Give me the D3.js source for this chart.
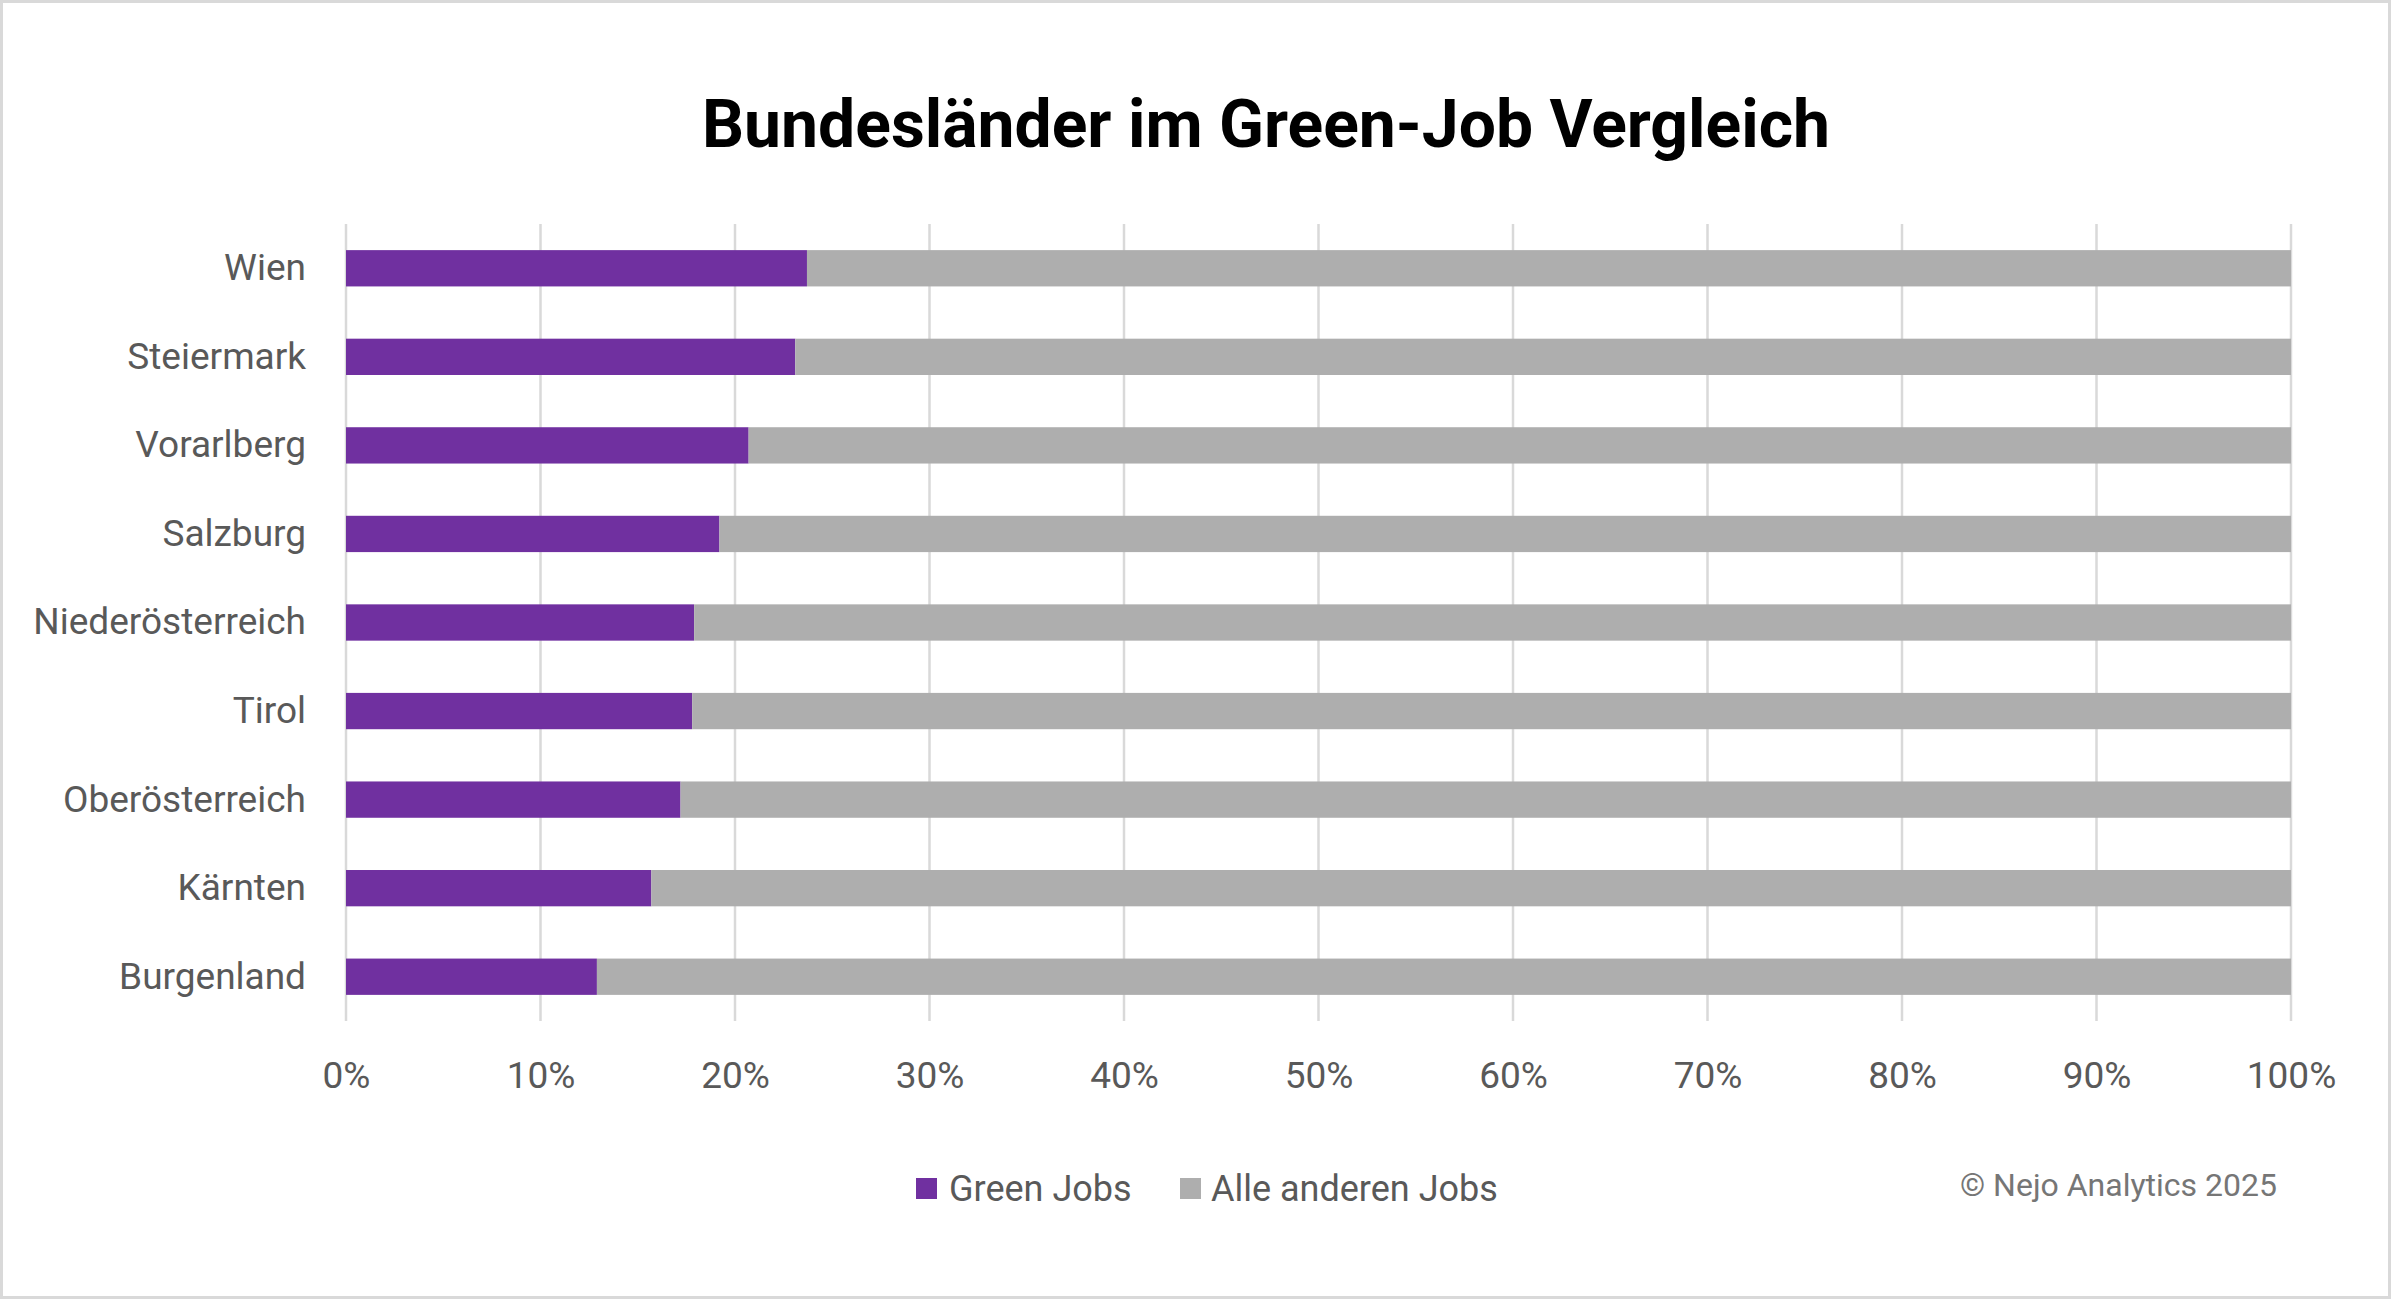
<!DOCTYPE html>
<html>
<head>
<meta charset="utf-8">
<script src="https://cdn.jsdelivr.net/npm/d3@7"></script>
<style>
  html, body { margin: 0; padding: 0; background: #fff; }
  svg { display: block; }
  text { font-family: Roboto, "Noto Sans", sans-serif; }
</style>
</head>
<body>
<svg id="chart" width="2391" height="1299"></svg>
<script>
const categories = ["Wien", "Steiermark", "Vorarlberg", "Salzburg", "Niederösterreich", "Tirol", "Oberösterreich", "Kärnten", "Burgenland"];
const greenJobs = [23.7, 23.1, 20.7, 19.2, 17.9, 17.8, 17.2, 15.7, 12.9];
const otherJobs = greenJobs.map(v => 100 - v);
const seriesNames = ["Green Jobs", "Alle anderen Jobs"];
const seriesColors = ["#7030a0", "#aeaeae"];
const xTicks = [0, 10, 20, 30, 40, 50, 60, 70, 80, 90, 100];
const titleText = "Bundesländer im Green-Job Vergleich";
const creditText = "© Nejo Analytics 2025";

const W = 2391, H = 1299;
const plot = { left: 346, right: 2291, top: 224, bottom: 1021 };

const svg = d3.select("#chart");

// outer frame
svg.append("rect")
  .attr("x", 1.5).attr("y", 1.5)
  .attr("width", W - 3).attr("height", H - 3)
  .attr("fill", "#fff").attr("stroke", "#d9d9d9").attr("stroke-width", 3);

const x = d3.scaleLinear().domain([0, 100]).range([plot.left, plot.right]);
const y = d3.scaleBand().domain(categories).range([plot.top, plot.bottom])
  .paddingInner(0.59).paddingOuter(0.295);

// title
svg.append("text")
  .attr("x", 1266).attr("y", 147)
  .attr("text-anchor", "middle")
  .attr("font-size", 66).attr("font-weight", 700)
  .attr("fill", "#000")
  .text(titleText);

// gridlines
svg.append("g").selectAll("line").data(xTicks).join("line")
  .attr("x1", d => x(d)).attr("x2", d => x(d))
  .attr("y1", plot.top).attr("y2", plot.bottom)
  .attr("stroke", "#d9d9d9").attr("stroke-width", 2.5);

// x axis labels
const xAxis = d3.axisBottom(x).tickValues(xTicks).tickFormat(d => d + "%").tickSize(0).tickPadding(0);
const gx = svg.append("g").attr("transform", `translate(0, 1062)`).call(xAxis);
gx.select(".domain").remove();
gx.selectAll("text").attr("font-size", 37).attr("fill", "#595959")
  .attr("font-family", "Roboto, sans-serif").attr("dy", "0.71em");

// y axis labels
const yAxis = d3.axisLeft(y).tickSize(0).tickPadding(0);
const gy = svg.append("g").attr("transform", `translate(306, -1)`).call(yAxis);
gy.select(".domain").remove();
gy.selectAll("text").attr("font-size", 37).attr("fill", "#595959")
  .attr("font-family", "Roboto, sans-serif").attr("dy", "0.35em");

// stacked bars
const rows = categories.map((c, i) => ({ cat: c, "Green Jobs": greenJobs[i], "Alle anderen Jobs": otherJobs[i] }));
const stack = d3.stack().keys(seriesNames)(rows);
svg.append("g").selectAll("g").data(stack).join("g")
  .attr("fill", (d, i) => seriesColors[i])
  .selectAll("rect").data(d => d).join("rect")
  .attr("x", d => x(d[0]))
  .attr("width", d => x(d[1]) - x(d[0]))
  .attr("y", d => y(d.data.cat))
  .attr("height", y.bandwidth());

// legend
const legendItems = [
  { name: seriesNames[0], color: seriesColors[0], sx: 916, tx: 949 },
  { name: seriesNames[1], color: seriesColors[1], sx: 1180, tx: 1211 }
];
const lg = svg.append("g");
legendItems.forEach(it => {
  lg.append("rect").attr("x", it.sx).attr("y", 1178).attr("width", 21).attr("height", 21).attr("fill", it.color);
  lg.append("text").attr("x", it.tx).attr("y", 1188).attr("dy", "0.35em")
    .attr("font-size", 36).attr("fill", "#595959").text(it.name);
});

// credit
svg.append("text")
  .attr("x", 2277).attr("y", 1185).attr("dy", "0.35em")
  .attr("text-anchor", "end")
  .attr("font-size", 32).attr("fill", "#767676")
  .text(creditText);
</script>
</body>
</html>
